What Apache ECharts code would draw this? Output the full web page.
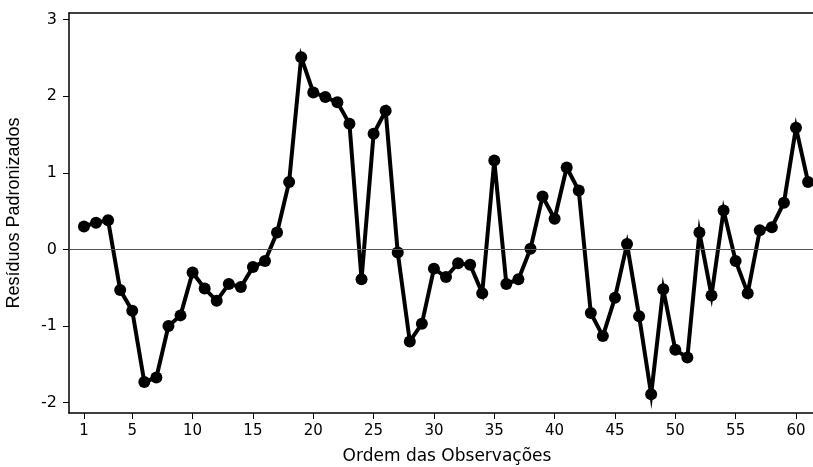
<!DOCTYPE html>
<html><head><meta charset="utf-8">
<script src="https://cdn.jsdelivr.net/npm/echarts@6/dist/echarts.min.js"></script>
<style>html,body{margin:0;padding:0;background:#fff}#c{width:813px;height:467px}</style>
</head><body><div id="c"></div>
<script>
const observations = [];
for (let i = 1; i <= 61; i++) observations.push(i);
const residuals = [0.30,0.35,0.38,-0.53,-0.80,-1.73,-1.67,-1.00,-0.86,-0.30,
  -0.51,-0.67,-0.45,-0.49,-0.23,-0.15,0.22,0.88,2.51,2.05,
  1.99,1.92,1.64,-0.39,1.51,1.81,-0.04,-1.20,-0.97,-0.25,
  -0.36,-0.18,-0.20,-0.57,1.16,-0.45,-0.39,0.01,0.69,0.40,
  1.07,0.77,-0.83,-1.13,-0.63,0.07,-0.87,-1.89,-0.52,-1.31,
  -1.41,0.22,-0.60,0.51,-0.15,-0.57,0.25,0.29,0.61,1.59,0.88];
const xTicks = [1,5,10,15,20,25,30,35,40,45,50,55,60];
const yTicks = [-2,-1,0,1,2,3];

const chart = echarts.init(document.getElementById('c'), null, {renderer:'canvas'});
const lblFont = 'DejaVu Sans';
chart.setOption({
  animation:false,
  grid:{left:69, top:13, right:0, bottom:54, containLabel:false, outerBoundsMode:'none'},
  xAxis:[{
    type:'value', min:-0.24, max:61.41, position:'bottom',
    axisLine:{show:true, onZero:false, lineStyle:{color:'#000', width:1.5}},
    axisTick:{show:true, length:6, customValues:xTicks, lineStyle:{color:'#000', width:1}},
    axisLabel:{customValues:xTicks, color:'#000', fontFamily:lblFont, fontSize:15, margin:11},
    splitLine:{show:false},
    name:'Ordem das Observações', nameLocation:'middle', nameGap:35,
    nameTextStyle:{color:'#000', fontFamily:lblFont, fontSize:17, padding:[0,0,0,12]}
  },{
    type:'value', min:-0.24, max:61.41, position:'top',
    axisLine:{show:true, onZero:false, lineStyle:{color:'#000', width:1.5}},
    axisTick:{show:false}, axisLabel:{show:false}, splitLine:{show:false}
  }],
  yAxis:{
    type:'value', min:-2.134, max:3.086,
    axisLine:{show:true, onZero:false, lineStyle:{color:'#000', width:1.5}},
    axisTick:{show:true, length:6, customValues:yTicks, lineStyle:{color:'#000', width:1}},
    axisLabel:{customValues:yTicks, color:'#000', fontFamily:lblFont, fontSize:16, margin:12},
    splitLine:{show:false},
    name:'Resíduos Padronizados', nameLocation:'middle', nameGap:46,
    nameTextStyle:{color:'#000', fontFamily:'Liberation Sans', fontSize:18}
  },
  series:[{
    type:'line', xAxisIndex:0,
    data: observations.map((x,i)=>[x, residuals[i]]),
    symbol:'circle', symbolSize:12,
    itemStyle:{color:'#000'},
    lineStyle:{color:'#000', width:4, join:'miter', miterLimit:10},
    markLine:{silent:true, symbol:'none', label:{show:false},
      lineStyle:{color:'#555', width:1.2, type:'solid'},
      data:[{yAxis:0}]}
  }]
});
</script></body></html>
